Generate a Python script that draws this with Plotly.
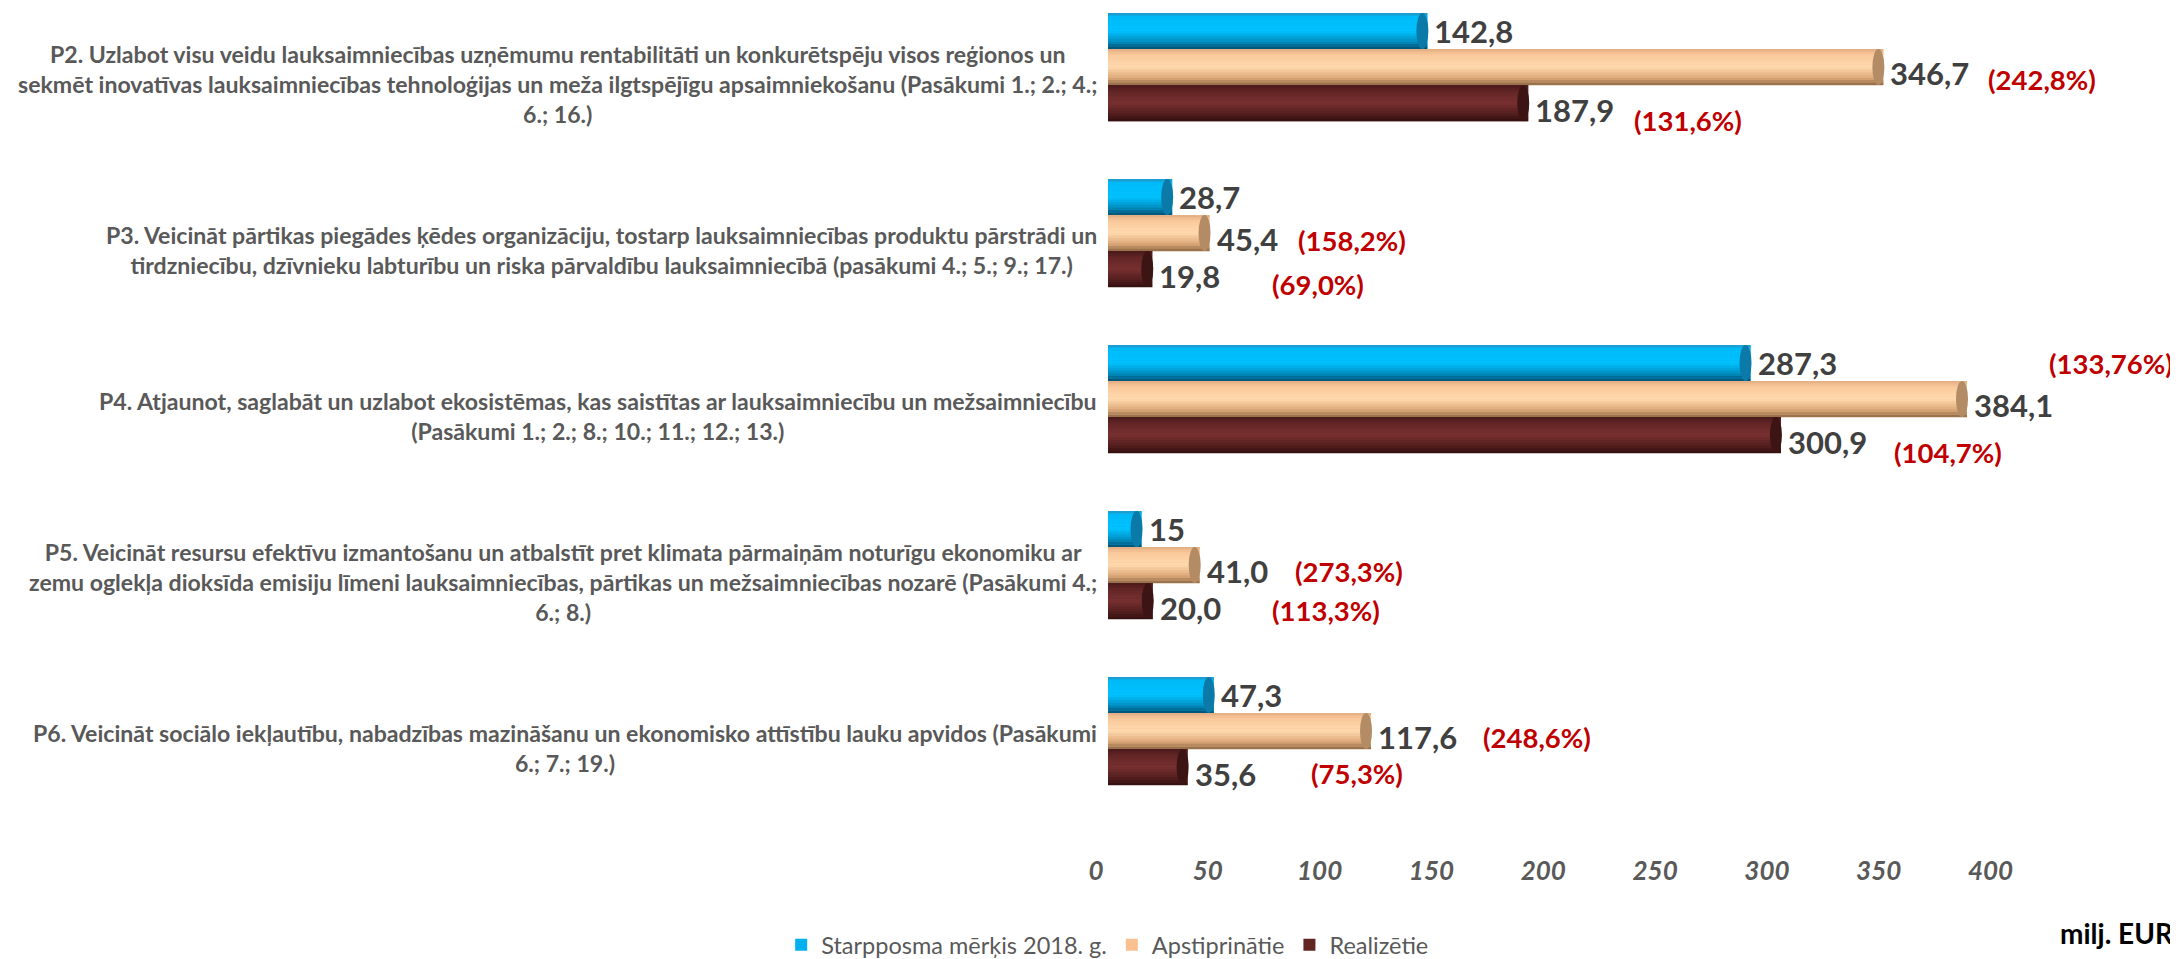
import plotly.graph_objects as go

# priorities (top to bottom)
categories = [
    "P2. Uzlabot visu veidu lauksaimniecības uzņēmumu rentabilitāti un konkurētspēju visos reģionos un<br>"
    "sekmēt inovatīvas lauksaimniecības tehnoloģijas un meža ilgtspējīgu apsaimniekošanu (Pasākumi 1.; 2.; 4.;<br>"
    "6.; 16.)",
    "P3. Veicināt pārtikas piegādes ķēdes organizāciju, tostarp lauksaimniecības produktu pārstrādi un<br>"
    "tirdzniecību, dzīvnieku labturību un riska pārvaldību lauksaimniecībā (pasākumi 4.; 5.; 9.; 17.)",
    "P4. Atjaunot, saglabāt un uzlabot ekosistēmas, kas saistītas ar lauksaimniecību un mežsaimniecību<br>"
    "(Pasākumi 1.; 2.; 8.; 10.; 11.; 12.; 13.)",
    "P5. Veicināt resursu efektīvu izmantošanu un atbalstīt pret klimata pārmaiņām noturīgu ekonomiku ar<br>"
    "zemu oglekļa dioksīda emisiju līmeni lauksaimniecības, pārtikas un mežsaimniecības nozarē (Pasākumi 4.;<br>"
    "6.; 8.)",
    "P6. Veicināt sociālo iekļautību, nabadzības mazināšanu un ekonomisko attīstību lauku apvidos (Pasākumi<br>"
    "6.; 7.; 19.)",
]

target_2018 = [142.8, 28.7, 287.3, 15.0, 47.3]
approved = [346.7, 45.4, 384.1, 41.0, 117.6]
realized = [187.9, 19.8, 300.9, 20.0, 35.6]

target_lbl = ["142,8", "28,7", "287,3", "15", "47,3"]
approved_lbl = ["346,7", "45,4", "384,1", "41,0", "117,6"]
realized_lbl = ["187,9", "19,8", "300,9", "20,0", "35,6"]

approved_pct = ["(242,8%)", "(158,2%)", "(133,76%)", "(273,3%)", "(248,6%)"]
realized_pct = ["(131,6%)", "(69,0%)", "(104,7%)", "(113,3%)", "(75,3%)"]

x_ticks = [0, 50, 100, 150, 200, 250, 300, 350, 400]

# label placement tweaks (pixels)
appr_pct_dx = [103, 86, 80, 93, 110]
appr_pct_dy = [-12, -7, 36, -6, -6]
real_pct_dx = [104, 118, 111, 117, 121]
real_pct_dy = [-17, -15, -17, -9, -6]

ypos = list(range(len(categories)))
W = 0.217  # bar thickness in category units
NB = 14    # shading bands per bar

FONT = "Lato"
GREY = "#404040"

fig = go.Figure()
shapes = []
annotations = []


def hex2rgb(h):
    h = h.lstrip("#")
    return [int(h[i:i + 2], 16) for i in (0, 2, 4)]


def shade(stops, t):
    for (t0, c0), (t1, c1) in zip(stops[:-1], stops[1:]):
        if t0 <= t <= t1:
            f = (t - t0) / (t1 - t0) if t1 > t0 else 0
            a, b = hex2rgb(c0), hex2rgb(c1)
            return "rgb(%d,%d,%d)" % tuple(round(a[k] + (b[k] - a[k]) * f) for k in range(3))
    return stops[-1][1]


def cylinder(vals, labels, name, off, legend_color, stops, cap, lbl_dy):
    # main body (carries legend)
    fig.add_trace(go.Bar(
        y=ypos, x=vals, orientation="h", name=name,
        offset=off, width=W, marker=dict(color=legend_color, line=dict(width=0)),
    ))
    # gradient bands to fake the cylinder look
    for k in range(NB):
        t = (k + 0.5) / NB
        fig.add_trace(go.Bar(
            y=ypos, x=vals, orientation="h", showlegend=False, hoverinfo="skip",
            offset=off + k * W / NB, width=W / NB * 1.05,
            marker=dict(color=shade(stops, t), line=dict(width=0)),
        ))
    for i, v in enumerate(vals):
        # far end rim of the cylinder
        shapes.append(dict(
            type="circle", xref="x", yref="y", xsizemode="pixel", xanchor=v,
            x0=-11, x1=1, y0=ypos[i] + off, y1=ypos[i] + off + W,
            fillcolor=cap, line=dict(width=0), layer="above",
        ))
        annotations.append(dict(
            x=v, xref="x", xanchor="left", xshift=5,
            y=ypos[i] + off + W / 2, yref="y", yshift=lbl_dy,
            text=labels[i], showarrow=False,
            font=dict(family=FONT, size=31, color=GREY, weight="bold"),
        ))


cylinder(target_2018, target_lbl, "Starpposma mērķis 2018. g.", -1.5 * W, "#00B0F0",
         [(0, "#2A8EBC"), (0.1, "#00BAF8"), (0.5, "#00C2FF"), (0.78, "#0090C2"), (1.0, "#004E70")],
         "#0B7AA8", 0)
cylinder(approved, approved_lbl, "Apstiprinātie", -0.5 * W, "#FAC090",
         [(0, "#DDAB80"), (0.15, "#FAC99A"), (0.5, "#FFDAAE"), (0.8, "#DCA878"), (1.0, "#8C6844")],
         "#B38B64", -6)
cylinder(realized, realized_lbl, "Realizētie", 0.5 * W, "#632523",
         [(0, "#481818"), (0.2, "#652727"), (0.5, "#783030"), (0.8, "#531E1E"), (1.0, "#300E0E")],
         "#3C1414", -7)

for i, txt in enumerate(categories):
    annotations.append(dict(
        x=0, xref="paper", xanchor="right", xshift=-9,
        y=ypos[i], yref="y", yshift=-17, yanchor="middle",
        text=txt, align="center", showarrow=False,
        font=dict(family=FONT, size=23.1, color="#595959", weight="bold"),
    ))
    annotations.append(dict(
        x=approved[i], xref="x", xanchor="left", xshift=appr_pct_dx[i],
        y=ypos[i], yref="y", yshift=appr_pct_dy[i],
        text=approved_pct[i], showarrow=False,
        font=dict(family=FONT, size=27.5, color="#C00000", weight="bold"),
    ))
    annotations.append(dict(
        x=realized[i], xref="x", xanchor="left", xshift=real_pct_dx[i],
        y=ypos[i] + W, yref="y", yshift=real_pct_dy[i],
        text=realized_pct[i], showarrow=False,
        font=dict(family=FONT, size=27.5, color="#C00000", weight="bold"),
    ))

annotations.append(dict(
    x=(2168 - 1100) / 1069, xref="paper", xanchor="right",
    y=-0.095, yref="paper", yanchor="middle",
    text="milj. EUR", showarrow=False,
    font=dict(family=FONT, size=28, color="#000000", weight="bold"),
))

fig.update_layout(
    width=2178, height=959,
    margin=dict(l=1100, r=9, t=5, b=114),
    barmode="overlay",
    plot_bgcolor="white", paper_bgcolor="white",
    font=dict(family=FONT, color="#595959"),
    annotations=annotations,
    shapes=shapes,
    legend=dict(
        orientation="h", xref="container", yref="container",
        x=0.355, xanchor="left", y=-0.006, yanchor="bottom",
        font=dict(family=FONT, size=23.5, color="#595959"),
        traceorder="normal", itemwidth=30,
    ),
    xaxis=dict(
        range=[0, 478], tickvals=x_ticks, showgrid=False, zeroline=False,
        showline=False, ticks="", ticklabelshift=-12,
        tickfont=dict(family=FONT, size=26, color="#595959", weight="bold", style="italic"),
    ),
    yaxis=dict(
        range=[4.735, -0.326], showticklabels=False, showgrid=False,
        zeroline=False, showline=False,
    ),
)

fig.write_html("out.html")
